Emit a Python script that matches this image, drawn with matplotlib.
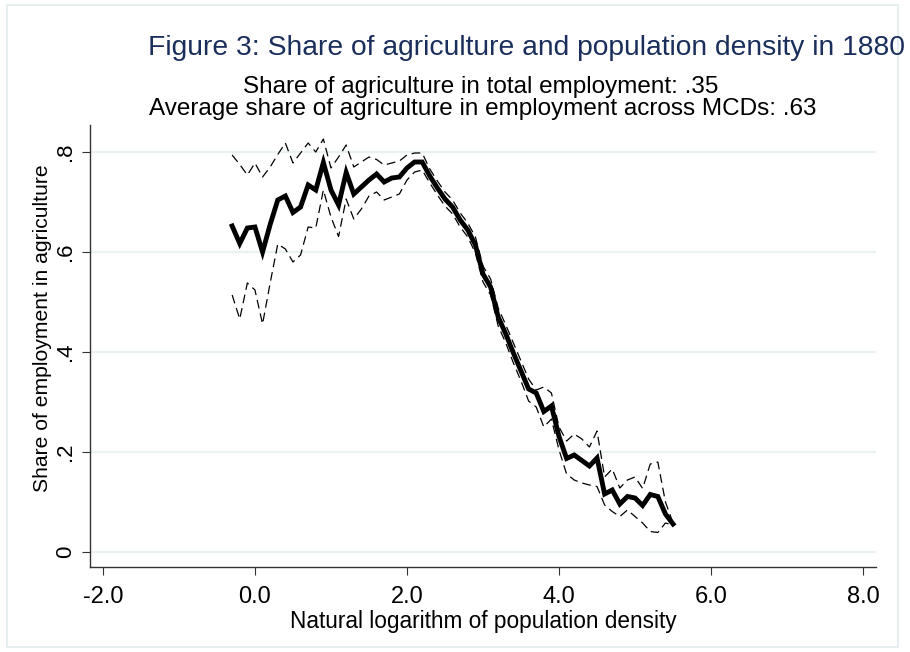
import matplotlib
matplotlib.use('Agg')
import matplotlib.pyplot as plt
from matplotlib.patches import Rectangle

plt.rcParams['font.family'] = ['Liberation Sans', 'DejaVu Sans']

# local means of agricultural share by log density bin, with 95% band
log_density = [-0.3, -0.2, -0.1, 0.0, 0.1, 0.2, 0.3, 0.4, 0.5, 0.6,
               0.7, 0.8, 0.9, 1.0, 1.1, 1.2, 1.3, 1.4, 1.5, 1.6,
               1.7, 1.8, 1.9, 2.0, 2.1, 2.2, 2.3, 2.4, 2.5, 2.6,
               2.7, 2.8, 2.9, 3.0, 3.1, 3.2, 3.3, 3.4, 3.5, 3.6,
               3.7, 3.8, 3.9, 4.0, 4.1, 4.2, 4.3, 4.4, 4.5, 4.6,
               4.7, 4.8, 4.9, 5.0, 5.1, 5.2, 5.3, 5.4, 5.5]
share_agri = [0.652, 0.617, 0.648, 0.650, 0.600, 0.655, 0.704, 0.712, 0.679, 0.690,
              0.734, 0.724, 0.779, 0.724, 0.694, 0.759, 0.716, 0.730, 0.744, 0.756,
              0.740, 0.748, 0.750, 0.768, 0.780, 0.780, 0.752, 0.728, 0.706, 0.690,
              0.664, 0.644, 0.614, 0.556, 0.530, 0.470, 0.436, 0.398, 0.362, 0.326,
              0.318, 0.281, 0.292, 0.231, 0.187, 0.194, 0.183, 0.172, 0.188, 0.116,
              0.124, 0.096, 0.111, 0.108, 0.093, 0.115, 0.111, 0.076, 0.056]
upper_ci = [0.794, 0.775, 0.754, 0.778, 0.750, 0.770, 0.795, 0.818, 0.778, 0.798,
            0.818, 0.800, 0.826, 0.768, 0.790, 0.814, 0.770, 0.780, 0.790, 0.785,
            0.774, 0.778, 0.782, 0.794, 0.798, 0.798, 0.766, 0.742, 0.720, 0.704,
            0.678, 0.658, 0.630, 0.572, 0.546, 0.488, 0.454, 0.418, 0.382, 0.346,
            0.324, 0.330, 0.318, 0.250, 0.222, 0.236, 0.226, 0.210, 0.242, 0.150,
            0.166, 0.128, 0.144, 0.150, 0.127, 0.176, 0.180, 0.100, 0.058]
lower_ci = [0.514, 0.466, 0.538, 0.524, 0.456, 0.538, 0.616, 0.606, 0.580, 0.594,
            0.650, 0.648, 0.724, 0.670, 0.631, 0.706, 0.666, 0.686, 0.712, 0.720,
            0.704, 0.710, 0.716, 0.744, 0.760, 0.764, 0.738, 0.714, 0.692, 0.676,
            0.650, 0.630, 0.598, 0.540, 0.514, 0.452, 0.418, 0.378, 0.342, 0.302,
            0.290, 0.250, 0.266, 0.204, 0.156, 0.144, 0.138, 0.134, 0.131, 0.094,
            0.081, 0.071, 0.084, 0.071, 0.058, 0.041, 0.039, 0.058, 0.054]

x_ticks = [-2, 0, 2, 4, 6, 8]
x_labels = ['-2.0', '0.0', '2.0', '4.0', '6.0', '8.0']
y_ticks = [0, 0.2, 0.4, 0.6, 0.8]
y_labels = ['0', '.2', '.4', '.6', '.8']

W, H = 910, 652
fig = plt.figure(figsize=(W / 100, H / 100), dpi=100)
fig.patch.set_facecolor('white')

# light outer frame of the graph region
fig.patches.append(Rectangle((7 / W, 1 - 647 / H), 891 / W, 642 / H,
                             transform=fig.transFigure, fill=False,
                             edgecolor='#e6eef0', linewidth=1.5))

ax = fig.add_axes([90 / W, 1 - 567 / H, 786 / W, 442 / H])
ax.set_xlim(-2.17, 8.17)
ax.set_ylim(-0.03, 0.854)

ax.plot(log_density, upper_ci, color='black', lw=0.9, dashes=(7, 4))
ax.plot(log_density, lower_ci, color='black', lw=0.9, dashes=(7, 4))
ax.plot(log_density, share_agri, color='black', lw=3.5, solid_joinstyle='miter')

for y in y_ticks:
    ax.axhline(y, color='#eaf1f3', lw=1.6, zorder=0)

for s in ['top', 'right']:
    ax.spines[s].set_visible(False)
for s in ['left', 'bottom']:
    ax.spines[s].set_color('#333333')
    ax.spines[s].set_linewidth(1.0)

ax.set_xticks(x_ticks)
ax.set_xticklabels(x_labels, fontsize=17)
ax.set_yticks(y_ticks)
ax.set_yticklabels(y_labels, fontsize=16, rotation=90, va='center')
ax.tick_params(axis='x', direction='out', length=6, width=0.8, color='#333333', pad=8)
ax.tick_params(axis='y', direction='out', length=6, width=0.8, color='#333333', pad=4)

ax.set_xlabel('Natural logarithm of population density', fontsize=16.3, labelpad=1)
fig.text(43 / W, 1 - 328 / H, 'Share of employment in agriculture',
         rotation=90, ha='center', va='center', fontsize=15.2)

fig.text(527 / W, 1 - 48 / H,
         'Figure 3: Share of agriculture and population density in 1880',
         ha='center', va='center', fontsize=20.3, color='#1b2f5c')
fig.text(481 / W, 1 - 87 / H, 'Share of agriculture in total employment: .35',
         ha='center', va='center', fontsize=17.5)
fig.text(483 / W, 1 - 109 / H,
         'Average share of agriculture in employment across MCDs: .63',
         ha='center', va='center', fontsize=17.5)

fig.savefig('out.png', dpi=100)
